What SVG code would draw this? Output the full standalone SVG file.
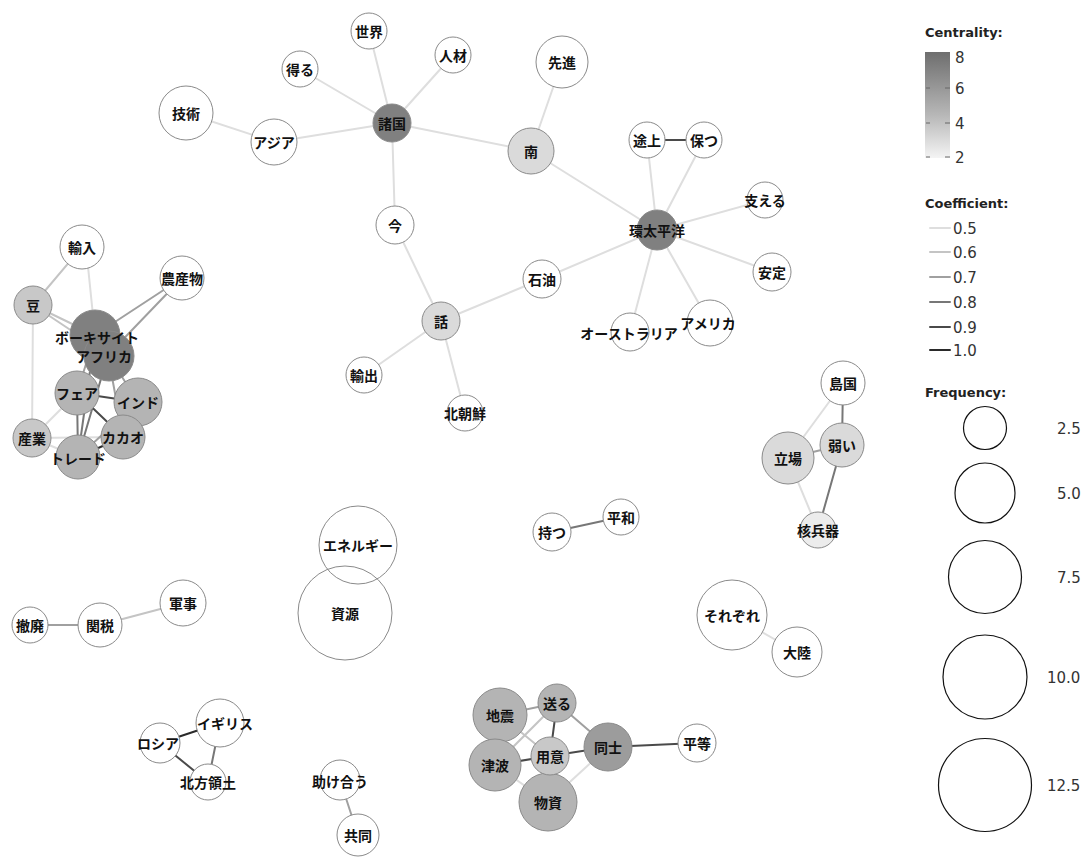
<svg xmlns="http://www.w3.org/2000/svg" width="1088" height="863" viewBox="0 0 1088 863">
<defs>
<linearGradient id="cgrad" x1="0" y1="0" x2="0" y2="1">
<stop offset="0" stop-color="#6e6e6e"/>
<stop offset="0.6" stop-color="#b8b8b8"/>
<stop offset="1" stop-color="#f4f4f4"/>
</linearGradient>
</defs>
<style>
.n{stroke:#8a8a8a;stroke-width:1;}
.w{fill:#ffffff;}
.c1{fill:#ececec;}
.c2{fill:#dadada;}
.c3{fill:#c8c8c8;}
.c4{fill:#b4b4b4;}
.c5{fill:#9c9c9c;}
.c6{fill:#808080;}
.t{font-family:"Noto Sans CJK JP","Noto Sans CJK SC",sans-serif;font-size:14px;font-weight:700;fill:#111;text-anchor:middle;dominant-baseline:central;}
.e{fill:none;stroke-width:2;stroke-linecap:round;}
.e1{stroke:#dedede;}
.e2{stroke:#c4c4c4;}
.e3{stroke:#a0a0a0;}
.e4{stroke:#777777;}
.e5{stroke:#4a4a4a;}
.e6{stroke:#2a2a2a;}
.lg{font-family:"DejaVu Sans","Liberation Sans",sans-serif;font-size:13px;font-weight:700;fill:#222;}
.lv{font-family:"DejaVu Sans","Liberation Sans",sans-serif;font-size:15px;fill:#333;}
.lc{fill:none;stroke:#111;stroke-width:1.2;}
</style>
<rect width="1088" height="863" fill="#ffffff"/>

<g id="connectors">
<line class="e e1" x1="392" y1="123" x2="369" y2="31"/>
<line class="e e1" x1="392" y1="123" x2="300" y2="69"/>
<line class="e e1" x1="392" y1="123" x2="453" y2="55"/>
<line class="e e1" x1="392" y1="123" x2="274" y2="142"/>
<line class="e e1" x1="392" y1="123" x2="531" y2="151"/>
<line class="e e1" x1="392" y1="123" x2="395" y2="225"/>
<line class="e e1" x1="274" y1="142" x2="186" y2="113"/>
<line class="e e1" x1="531" y1="151" x2="562" y2="62"/>
<line class="e e1" x1="531" y1="151" x2="657" y2="230"/>
<line class="e e1" x1="657" y1="230" x2="647" y2="140"/>
<line class="e e1" x1="657" y1="230" x2="704" y2="140"/>
<line class="e e5" x1="647" y1="140" x2="704" y2="140"/>
<line class="e e1" x1="657" y1="230" x2="765" y2="200"/>
<line class="e e1" x1="657" y1="230" x2="772" y2="272"/>
<line class="e e1" x1="657" y1="230" x2="630" y2="332"/>
<line class="e e1" x1="657" y1="230" x2="710" y2="323"/>
<line class="e e1" x1="657" y1="230" x2="542" y2="279"/>
<line class="e e1" x1="542" y1="279" x2="441" y2="321"/>
<line class="e e1" x1="395" y1="225" x2="441" y2="321"/>
<line class="e e1" x1="441" y1="321" x2="364" y2="375"/>
<line class="e e1" x1="441" y1="321" x2="465" y2="413"/>
<line class="e e2" x1="82" y1="247" x2="33" y2="305"/>
<line class="e e1" x1="86" y1="247" x2="95" y2="335"/>
<line class="e e3" x1="182" y1="278" x2="95" y2="335"/>
<line class="e e3" x1="182" y1="278" x2="108" y2="355"/>
<line class="e e2" x1="33" y1="305" x2="95" y2="335"/>
<line class="e e2" x1="33" y1="305" x2="108" y2="355"/>
<line class="e e1" x1="33" y1="305" x2="32" y2="438"/>
<line class="e e1" x1="32" y1="438" x2="77" y2="393"/>
<line class="e e1" x1="32" y1="438" x2="123" y2="437"/>
<line class="e e1" x1="32" y1="438" x2="78" y2="457"/>
<line class="e e4" x1="95" y1="335" x2="78" y2="457"/>
<line class="e e4" x1="108" y1="355" x2="78" y2="457"/>
<line class="e e3" x1="108" y1="355" x2="138" y2="402"/>
<line class="e e3" x1="108" y1="355" x2="123" y2="437"/>
<line class="e e3" x1="95" y1="335" x2="77" y2="393"/>
<line class="e e5" x1="77" y1="393" x2="138" y2="402"/>
<line class="e e5" x1="77" y1="393" x2="123" y2="437"/>
<line class="e e4" x1="77" y1="393" x2="78" y2="457"/>
<line class="e e6" x1="78" y1="457" x2="123" y2="437"/>
<line class="e e3" x1="138" y1="402" x2="123" y2="437"/>
<line class="e e3" x1="138" y1="402" x2="78" y2="457"/>
<line class="e e3" x1="30" y1="625" x2="100" y2="625"/>
<line class="e e2" x1="100" y1="625" x2="183" y2="603"/>
<line class="e e6" x1="160" y1="743" x2="220" y2="723"/>
<line class="e e5" x1="160" y1="743" x2="208" y2="782"/>
<line class="e e4" x1="220" y1="723" x2="208" y2="782"/>
<line class="e e3" x1="340" y1="780" x2="358" y2="835"/>
<line class="e e4" x1="552" y1="532" x2="621" y2="517"/>
<line class="e e4" x1="843" y1="383" x2="842" y2="445"/>
<line class="e e1" x1="843" y1="383" x2="788" y2="458"/>
<line class="e e3" x1="788" y1="458" x2="842" y2="445"/>
<line class="e e4" x1="842" y1="445" x2="818" y2="530"/>
<line class="e e1" x1="788" y1="458" x2="818" y2="530"/>
<line class="e e1" x1="732" y1="615" x2="797" y2="652"/>
<line class="e e3" x1="500" y1="715" x2="557" y2="703"/>
<line class="e e3" x1="500" y1="715" x2="495" y2="765"/>
<line class="e e2" x1="500" y1="715" x2="550" y2="756"/>
<line class="e e5" x1="557" y1="703" x2="550" y2="756"/>
<line class="e e3" x1="557" y1="703" x2="608" y2="747"/>
<line class="e e2" x1="557" y1="703" x2="495" y2="765"/>
<line class="e e5" x1="550" y1="756" x2="608" y2="747"/>
<line class="e e5" x1="550" y1="756" x2="495" y2="765"/>
<line class="e e5" x1="608" y1="747" x2="697" y2="743"/>
<line class="e e1" x1="608" y1="747" x2="548" y2="802"/>
<line class="e e1" x1="495" y1="765" x2="548" y2="802"/>
</g>

<g id="nodes">
<g id="n-sekai"><circle class="n w" cx="369" cy="31" r="18"/><text class="t" x="369" y="31">世界</text></g>
<g id="n-eru"><circle class="n w" cx="300" cy="69" r="18"/><text class="t" x="300" y="69">得る</text></g>
<g id="n-jinzai"><circle class="n w" cx="453" cy="55" r="18"/><text class="t" x="453" y="55">人材</text></g>
<g id="n-senshin"><circle class="n w" cx="562" cy="62" r="26"/><text class="t" x="562" y="62">先進</text></g>
<g id="n-gijutsu"><circle class="n w" cx="186" cy="113" r="27"/><text class="t" x="186" y="113">技術</text></g>
<g id="n-asia"><circle class="n w" cx="274" cy="142" r="23"/><text class="t" x="274" y="142">アジア</text></g>
<g id="n-shokoku"><circle class="n c6" cx="392" cy="123" r="19"/><text class="t" x="392" y="123">諸国</text></g>
<g id="n-minami"><circle class="n c2" cx="531" cy="151" r="23"/><text class="t" x="531" y="151">南</text></g>
<g id="n-tojo"><circle class="n w" cx="647" cy="140" r="18"/><text class="t" x="647" y="140">途上</text></g>
<g id="n-tamotsu"><circle class="n w" cx="704" cy="140" r="18"/><text class="t" x="704" y="140">保つ</text></g>
<g id="n-sasaeru"><circle class="n w" cx="765" cy="200" r="18"/><text class="t" x="765" y="200">支える</text></g>
<g id="n-kantaiheiyo"><circle class="n c6" cx="657" cy="230" r="20"/><text class="t" x="657" y="230">環太平洋</text></g>
<g id="n-antei"><circle class="n w" cx="772" cy="272" r="19"/><text class="t" x="772" y="272">安定</text></g>
<g id="n-sekiyu"><circle class="n w" cx="542" cy="279" r="19"/><text class="t" x="542" y="279">石油</text></g>
<g id="n-australia"><circle class="n w" cx="630" cy="332" r="19"/><text class="t" x="629" y="333">オーストラリア</text></g>
<g id="n-america"><circle class="n w" cx="710" cy="323" r="23"/><text class="t" x="708" y="323">アメリカ</text></g>
<g id="n-ima"><circle class="n w" cx="395" cy="225" r="19"/><text class="t" x="395" y="225">今</text></g>
<g id="n-hanashi"><circle class="n c2" cx="441" cy="321" r="19"/><text class="t" x="441" y="321">話</text></g>
<g id="n-yushutsu"><circle class="n w" cx="364" cy="375" r="18"/><text class="t" x="364" y="375">輸出</text></g>
<g id="n-kitachosen"><circle class="n w" cx="465" cy="413" r="18"/><text class="t" x="465" y="413">北朝鮮</text></g>

<g id="n-yunyu"><circle class="n w" cx="82" cy="247" r="22"/><text class="t" x="82" y="247">輸入</text></g>
<g id="n-nosanbutsu"><circle class="n w" cx="182" cy="278" r="22"/><text class="t" x="182" y="278">農産物</text></g>
<g id="n-mame"><circle class="n c3" cx="33" cy="305" r="19"/><text class="t" x="33" y="305">豆</text></g>
<g id="n-bauxite"><circle class="n c6" cx="95" cy="335" r="25"/></g>
<g id="n-africa"><circle class="n c6" cx="109" cy="356" r="25"/></g>
<g id="n-fair"><circle class="n c4" cx="77" cy="393" r="22"/><text class="t" x="77" y="393">フェア</text></g>
<g id="n-india"><circle class="n c4" cx="138" cy="402" r="24"/><text class="t" x="138" y="402">インド</text></g>
<g id="n-sangyo"><circle class="n c3" cx="32" cy="438" r="19"/><text class="t" x="32" y="438">産業</text></g>
<g id="n-cacao"><circle class="n c4" cx="123" cy="437" r="22"/><text class="t" x="123" y="437">カカオ</text></g>
<g id="n-trade"><circle class="n c4" cx="78" cy="457" r="22"/><text class="t" x="78" y="458">トレード</text></g>
<g id="labels-africa"><text class="t" x="97" y="337">ボーキサイト</text><text class="t" x="104" y="356">アフリカ</text></g>

<g id="n-teppai"><circle class="n w" cx="30" cy="625" r="18"/><text class="t" x="30" y="625">撤廃</text></g>
<g id="n-kanzei"><circle class="n w" cx="100" cy="625" r="22"/><text class="t" x="100" y="625">関税</text></g>
<g id="n-gunji"><circle class="n w" cx="183" cy="603" r="23"/><text class="t" x="183" y="603">軍事</text></g>
<g id="n-igirisu"><circle class="n w" cx="220" cy="723" r="24"/><text class="t" x="225" y="723">イギリス</text></g>
<g id="n-roshia"><circle class="n w" cx="160" cy="743" r="20"/><text class="t" x="158" y="743">ロシア</text></g>
<g id="n-hoppo"><circle class="n w" cx="208" cy="782" r="18"/><text class="t" x="208" y="782">北方領土</text></g>
<g id="n-tasukeau"><circle class="n w" cx="340" cy="780" r="20"/><text class="t" x="340" y="781">助け合う</text></g>
<g id="n-kyodo"><circle class="n w" cx="358" cy="835" r="21"/><text class="t" x="358" y="835">共同</text></g>

<g id="n-energy"><circle class="n" fill="none" cx="358" cy="545" r="39"/><text class="t" x="358" y="545">エネルギー</text></g>
<g id="n-shigen"><circle class="n" fill="none" cx="345" cy="613" r="47"/><text class="t" x="345" y="613">資源</text></g>
<g id="n-motsu"><circle class="n w" cx="552" cy="532" r="19"/><text class="t" x="552" y="532">持つ</text></g>
<g id="n-heiwa"><circle class="n w" cx="621" cy="517" r="18"/><text class="t" x="621" y="517">平和</text></g>

<g id="n-shimaguni"><circle class="n w" cx="843" cy="383" r="22"/><text class="t" x="843" y="383">島国</text></g>
<g id="n-tachiba"><circle class="n c2" cx="788" cy="458" r="26"/><text class="t" x="788" y="458">立場</text></g>
<g id="n-yowai"><circle class="n c2" cx="842" cy="445" r="22"/><text class="t" x="842" y="445">弱い</text></g>
<g id="n-kakuheiki"><circle class="n c1" cx="818" cy="530" r="18"/><text class="t" x="818" y="530">核兵器</text></g>
<g id="n-sorezore"><circle class="n w" cx="732" cy="615" r="35"/><text class="t" x="732" y="615">それぞれ</text></g>
<g id="n-tairiku"><circle class="n w" cx="797" cy="652" r="25"/><text class="t" x="797" y="652">大陸</text></g>

<g id="n-jishin"><circle class="n c4" cx="500" cy="715" r="27"/><text class="t" x="500" y="715">地震</text></g>
<g id="n-okuru"><circle class="n c4" cx="557" cy="703" r="19"/><text class="t" x="557" y="703">送る</text></g>
<g id="n-tsunami"><circle class="n c4" cx="495" cy="765" r="26"/><text class="t" x="495" y="765">津波</text></g>
<g id="n-busshi"><circle class="n c4" cx="548" cy="802" r="29"/><text class="t" x="548" y="802">物資</text></g>
<g id="n-yoi"><circle class="n c3" cx="550" cy="756" r="19"/><text class="t" x="550" y="756">用意</text></g>
<g id="n-doshi"><circle class="n c5" cx="608" cy="747" r="24"/><text class="t" x="608" y="747">同士</text></g>
<g id="n-byodo"><circle class="n w" cx="697" cy="743" r="19"/><text class="t" x="697" y="743">平等</text></g>
</g>

<g id="legend">
<text class="lg" x="925" y="37">Centrality:</text>
<rect x="925" y="52" width="25" height="106" fill="url(#cgrad)"/>
<g stroke="#666" stroke-width="1">
<line x1="926" y1="88" x2="930" y2="88"/><line x1="945" y1="88" x2="950" y2="88"/>
<line x1="926" y1="123" x2="930" y2="123"/><line x1="945" y1="123" x2="950" y2="123"/>
<line x1="926" y1="157" x2="930" y2="157"/><line x1="945" y1="157" x2="950" y2="157"/>
</g>
<text class="lv" x="955" y="63">8</text>
<text class="lv" x="955" y="94">6</text>
<text class="lv" x="955" y="129">4</text>
<text class="lv" x="955" y="163">2</text>

<text class="lg" x="925" y="208">Coefficient:</text>
<line class="e e1" x1="930" y1="228" x2="950" y2="228"/><text class="lv" x="953" y="234">0.5</text>
<line class="e e2" x1="930" y1="252" x2="950" y2="252"/><text class="lv" x="953" y="258">0.6</text>
<line class="e e3" x1="930" y1="277" x2="950" y2="277"/><text class="lv" x="953" y="283">0.7</text>
<line class="e e4" x1="930" y1="302" x2="950" y2="302"/><text class="lv" x="953" y="308">0.8</text>
<line class="e e5" x1="930" y1="327" x2="950" y2="327"/><text class="lv" x="953" y="333">0.9</text>
<line class="e e6" x1="930" y1="350" x2="950" y2="350"/><text class="lv" x="953" y="356">1.0</text>

<text class="lg" x="925" y="397">Frequency:</text>
<circle class="lc" cx="985" cy="428" r="21.5"/><text class="lv" x="1057" y="434">2.5</text>
<circle class="lc" cx="985" cy="493" r="30"/><text class="lv" x="1057" y="499">5.0</text>
<circle class="lc" cx="985" cy="577" r="36.5"/><text class="lv" x="1057" y="583">7.5</text>
<circle class="lc" cx="985" cy="677" r="42"/><text class="lv" x="1047" y="683">10.0</text>
<circle class="lc" cx="985" cy="785" r="46.5"/><text class="lv" x="1047" y="791">12.5</text>
</g>
</svg>
